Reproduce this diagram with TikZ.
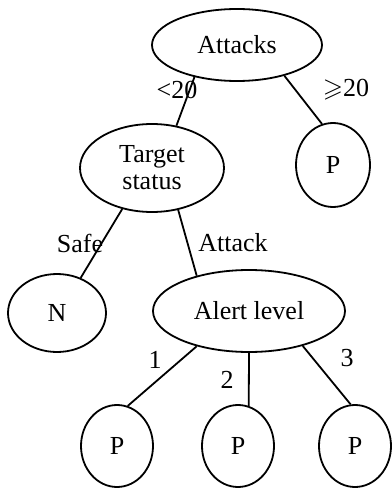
\documentclass[tikz,border=0pt]{standalone}
\usepackage{amssymb}
\usepackage{fontspec}
\setmainfont{Liberation Serif}
\usetikzlibrary{
	shapes.geometric,
}

\begin{document}
\begin{tikzpicture}[x=1pt,y=-1pt,line width=1.8pt]
		\tikzstyle{every node}+=[inner sep=0pt,font=\fontsize{26}{27}\selectfont]
		\tikzstyle{test}=[draw,ellipse,align=center]
		\tikzstyle{leaf}=[draw,ellipse,minimum width=72pt,minimum height=82pt]
		\useasboundingbox (0,0) rectangle (391,489);
		\node [test,minimum width=170pt,minimum height=72pt] (attacks) at (237,45) {Attacks};
		\node [leaf,minimum width=74pt,minimum height=84pt] (pa) at (333,165) {P};
		\node [test,minimum width=144pt,minimum height=88pt] (target) at (152,168) {Target\\status};
		\node [leaf,minimum width=98pt,minimum height=78pt] (n) at (57,313) {N};
		\node [test,minimum width=192pt,minimum height=82pt] (alert) at (249,311) {Alert level};
		\node [leaf] (p1) at (117,446) {P};
		\node [leaf] (p2) at (238,446) {P};
		\node [leaf] (p3) at (355,446) {P};
		\draw (attacks.217) -- (target.60);
		\draw (attacks.327) -- (pa.105);
		\draw (target.234) -- (n.56);
		\draw (target.302) -- (alert.146);
		\draw (alert.214) -- (p1.75);
		\draw (alert.270) -- (p2.75);
		\draw (alert.327) -- (p3.96);
		\node (lt) at (177,90) {<20};
		\node (ge) at (346,90) {$\geqslant$20};
		\node (safe) at (80,243) {Safe};
		\node (attack) at (233,243) {Attack};
		\node (one) at (155,360) {1};
		\node (two) at (227,380) {2};
		\node (three) at (347,358) {3};
		\end{tikzpicture}
\end{document}
